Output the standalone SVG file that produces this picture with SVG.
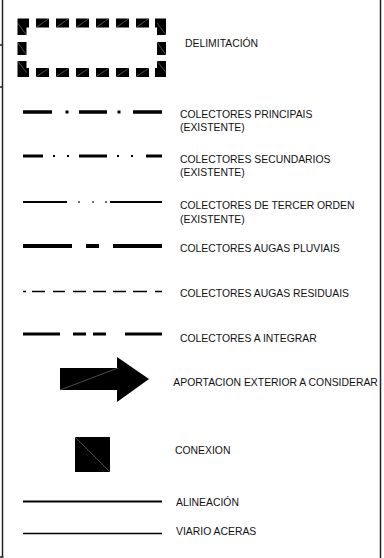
<svg xmlns="http://www.w3.org/2000/svg" width="384" height="558" viewBox="0 0 384 558">
<style>
text{font-family:"Liberation Sans",Arial,sans-serif;font-size:10.4px;fill:#111}
.ln{fill:none;stroke:#000;stroke-linecap:butt}
.hair{stroke:#9a9a9a;stroke-width:0.5;fill:none}
.frame{stroke:#222;stroke-width:1.5;fill:none}
</style>
<rect width="384" height="558" fill="#fff"/>
<g id="frame">
<path class="frame" d="M2.5,0V557M0,557H3.5M380.5,0V558"/>
<path class="frame" d="M0,45H2.5M0,87H2.5" stroke-width="1"/>
</g>
<g id="delimitacion">
<g class="ln" stroke-width="9" stroke-linejoin="miter">
<path d="M22,35V23H29M155,23H161.5V35M161.5,61V72.5H155M29,72.5H22V61"/>
<path d="M36,23H49M56,23H69M76,23H89M96,23H109M116,23H129M136,23H149"/>
<path d="M36,72.5H49M56,72.5H69M76,72.5H89M96,72.5H109M116,72.5H129M136,72.5H149"/>
<path d="M22,42V55M161.5,42V55"/>
</g>
<path class="hair" d="M36,27.5L49,18.5M56,27.5L69,18.5M76,27.5L89,18.5M96,27.5L109,18.5M116,27.5L129,18.5M136,27.5L149,18.5M36,77L49,68M56,77L69,68M76,77L89,68M96,77L109,68M116,77L129,68M136,77L149,68M17.5,42L26.5,55M157,42L166,55M17.5,23L26.5,35M157,23L166,35M17.5,61L26.5,72.5M157,61L166,72.5"/>
<text x="185" y="46.5">DELIMITACIÓN</text>
</g>
<g id="colectores-principais">
<path class="ln" stroke-width="3.5" d="M23,112H52M79,112H107M133,112H162"/>
<rect x="65.5" y="110.5" width="3" height="3"/>
<rect x="117.5" y="110.5" width="3" height="3"/>
<text x="180" y="118.3">COLECTORES PRINCIPAIS</text>
<text x="180" y="131">(EXISTENTE)</text>
</g>
<g id="colectores-secundarios">
<path class="ln" stroke-width="3" d="M23,156H43M79,156H107M146,156H162"/>
<rect x="53" y="155" width="2" height="2"/>
<rect x="67" y="155" width="2" height="2"/>
<rect x="117" y="155" width="2" height="2"/>
<rect x="131" y="155" width="2" height="2"/>
<text x="180" y="162.7">COLECTORES SECUNDARIOS</text>
<text x="180" y="176">(EXISTENTE)</text>
</g>
<g id="colectores-tercer-orden">
<path class="ln" stroke-width="2" d="M23,202H67M110,202H162"/>
<rect x="78.3" y="201.3" width="1.5" height="1.5"/>
<rect x="92.3" y="201.3" width="1.5" height="1.5"/>
<rect x="105.3" y="201.3" width="1.5" height="1.5"/>
<text x="180" y="209">COLECTORES DE TERCER ORDEN</text>
<text x="180" y="223">(EXISTENTE)</text>
</g>
<g id="colectores-pluviais">
<path class="ln" stroke-width="4" d="M23,246H72M86,246H99M113,246H162"/>
<text x="180" y="252">COLECTORES AUGAS PLUVIAIS</text>
</g>
<g id="colectores-residuais">
<path class="ln" stroke-width="1.6" d="M23,291.5H26M32,291.5H45M53,291.5H65M73,291.5H86M93,291.5H106M113,291.5H126M133,291.5H147M155,291.5H162"/>
<text x="180" y="297">COLECTORES AUGAS RESIDUAIS</text>
</g>
<g id="colectores-integrar">
<path class="ln" stroke-width="2.8" d="M23,334H60M73,334H86M93,334H106M125,334H162"/>
<text x="180" y="341.5">COLECTORES A INTEGRAR</text>
</g>
<g id="aportacion">
<rect x="60" y="368" width="58" height="22" fill="#000"/>
<polygon points="117,357 149,379 117,402" fill="#000"/>
<path class="hair" d="M60,390L118,368"/>
<text x="173.3" y="386">APORTACION EXTERIOR A CONSIDERAR</text>
</g>
<g id="conexion">
<rect x="75" y="437" width="35" height="35" fill="#000"/>
<path class="hair" d="M75,437L110,472"/>
<text x="175" y="454">CONEXION</text>
</g>
<g id="alineacion">
<path class="ln" stroke-width="2" d="M23,501.5H162"/>
<text x="176" y="505.7">ALINEACIÓN</text>
</g>
<g id="viario-aceras">
<path class="ln" stroke-width="1.5" d="M23,533.5H162"/>
<text x="176" y="535">VIARIO ACERAS</text>
</g>
</svg>
